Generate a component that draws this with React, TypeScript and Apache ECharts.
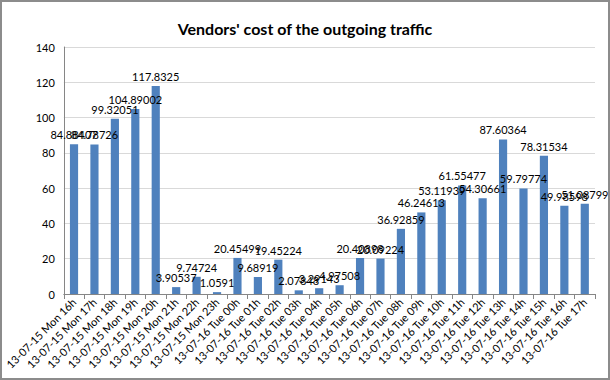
import React, { useEffect, useRef } from "react";
import * as echarts from "echarts";

const categories = [
  "13-07-15 Mon 16h", "13-07-15 Mon 17h", "13-07-15 Mon 18h", "13-07-15 Mon 19h",
  "13-07-15 Mon 20h", "13-07-15 Mon 21h", "13-07-15 Mon 22h", "13-07-15 Mon 23h",
  "13-07-16 Tue 00h", "13-07-16 Tue 01h", "13-07-16 Tue 02h", "13-07-16 Tue 03h",
  "13-07-16 Tue 04h", "13-07-16 Tue 05h", "13-07-16 Tue 06h", "13-07-16 Tue 07h",
  "13-07-16 Tue 08h", "13-07-16 Tue 09h", "13-07-16 Tue 10h", "13-07-16 Tue 11h",
  "13-07-16 Tue 12h", "13-07-16 Tue 13h", "13-07-16 Tue 14h", "13-07-16 Tue 15h",
  "13-07-16 Tue 16h", "13-07-16 Tue 17h",
];

const values = [
  84.88407, 84.78726, 99.32051, 104.89002, 117.8325, 3.90537, 9.74724, 1.0591,
  20.45499, 9.68919, 19.45224, 2.07848, 3.29143, 4.97508, 20.40898, 20.09224,
  36.92859, 46.24613, 53.11939, 61.55477, 54.30661, 87.60364, 59.79774, 78.31534,
  49.98598, 51.08799,
];

const title = "Vendors' cost of the outgoing traffic";

export default function App() {
  const ref = useRef<HTMLDivElement>(null);
  useEffect(() => {
    if (!ref.current) return;
    const chart = echarts.init(ref.current, null, { renderer: "svg" });
    const font = "Lato, 'Open Sans', sans-serif";
    chart.setOption({
      animation: false,
      backgroundColor: "#ffffff",
      title: {
        text: title,
        left: "center",
        top: 13,
        textStyle: { fontFamily: font, fontSize: 16, fontWeight: "bold", color: "#000" },
      },
      grid: { left: 60, right: 13, top: 45, bottom: 84 },
      xAxis: {
        type: "category",
        data: categories,
        axisLine: { lineStyle: { color: "#868686" } },
        axisTick: { show: true, length: 5, lineStyle: { color: "#868686" } },
        axisLabel: { interval: 0, rotate: 45, fontFamily: font, fontSize: 11, color: "#000", margin: 6 },
      },
      yAxis: {
        type: "value",
        min: 0,
        max: 140,
        interval: 20,
        axisLine: { show: true, lineStyle: { color: "#868686" } },
        axisTick: { show: false },
        axisLabel: { fontFamily: font, fontSize: 11, color: "#000", margin: 9 },
        splitLine: { lineStyle: { color: "#d9d9d9" } },
      },
      series: [
        {
          type: "bar",
          data: values,
          barWidth: "40%",
          itemStyle: { color: "#4f81bd" },
          label: {
            show: true,
            position: "top",
            fontFamily: font,
            fontSize: 11,
            color: "#000",
            distance: 4,
          },
        },
      ],
    });
    return () => chart.dispose();
  }, []);
  return (
    <div
      style={{
        position: "fixed",
        left: 0,
        top: 0,
        width: 610,
        height: 380,
        boxSizing: "border-box",
        border: "2px solid #8c8c8c",
        background: "#fff",
      }}
    >
      <div ref={ref} style={{ width: 606, height: 376 }} />
    </div>
  );
}
